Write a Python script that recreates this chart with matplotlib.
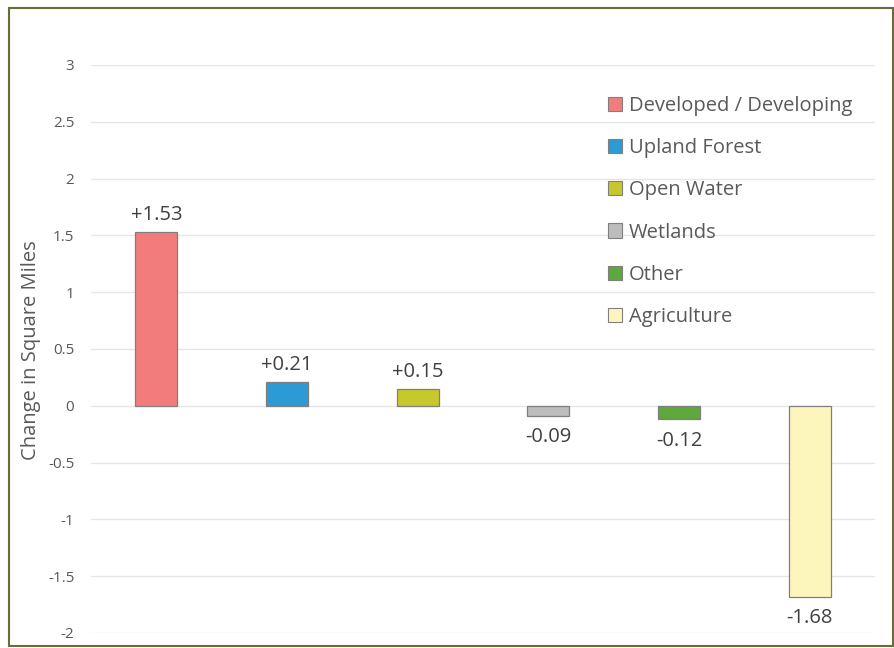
import matplotlib.pyplot as plt
from matplotlib.patches import Rectangle, Patch

categories = ["Developed / Developing", "Upland Forest", "Open Water",
              "Wetlands", "Other", "Agriculture"]
values = [1.53, 0.21, 0.15, -0.09, -0.12, -1.68]
labels = ["+1.53", "+0.21", "+0.15", "-0.09", "-0.12", "-1.68"]
colors = ["#F27C7C", "#2C9AD4", "#C6C82C", "#BDBDBD", "#5EA83C", "#FDF6BC"]
yticks = [-2, -1.5, -1, -0.5, 0, 0.5, 1, 1.5, 2, 2.5, 3]
ytick_labels = ["-2", "-1.5", "-1", "-0.5", "0", "0.5", "1", "1.5", "2", "2.5", "3"]

plt.rcParams['font.family'] = ['Open Sans', 'DejaVu Sans']

fig = plt.figure(figsize=(8.95, 6.48), dpi=100)
ax = fig.add_axes([91/895, 1-633/648, (875-91)/895, (633-65)/648])

x = list(range(len(values)))
ax.bar(x, values, width=0.32, color=colors, edgecolor="#7f7f7f", linewidth=0.9, zorder=3)

for xi, v, lab in zip(x, values, labels):
    if v >= 0:
        ax.text(xi, v + 0.06, lab, ha="center", va="bottom", fontsize=14.5, color="#404040")
    else:
        ax.text(xi, v - 0.10, lab, ha="center", va="top", fontsize=14.5, color="#404040")

ax.set_xlim(-0.5, 5.5)
ax.set_ylim(-2, 3)
ax.set_yticks(yticks)
ax.set_yticklabels(ytick_labels, fontsize=11, color="#595959")
ax.set_xticks([])
ax.tick_params(axis="y", length=0, pad=12)
ax.grid(axis="y", color="#e6e6e6", linewidth=1, zorder=0)
for s in ax.spines.values():
    s.set_visible(False)

fig.text(31/895, 1-350/648, "Change in Square Miles", rotation=90, ha="center", va="center",
         fontsize=14.5, color="#595959")

handles = [Patch(facecolor=c, edgecolor="#7f7f7f", linewidth=0.8) for c in colors]
leg = fig.legend(handles, categories, loc="upper left", bbox_to_anchor=(600/895, 1-88/648),
                 frameon=False, fontsize=14.5, labelcolor="#595959",
                 handlelength=0.7, handleheight=0.7, handletextpad=0.35,
                 labelspacing=1.1, borderaxespad=0)

fig.patches.append(Rectangle((9/895, 1-646/648), (893-9)/895, (646-8)/648,
                             transform=fig.transFigure, fill=False,
                             edgecolor="#6b6b3c", linewidth=1.5))

fig.savefig("out.png", dpi=100)
